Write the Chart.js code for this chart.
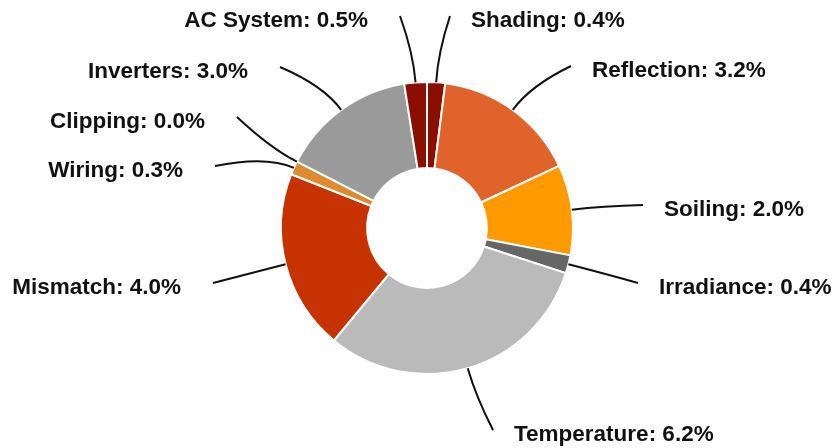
<!DOCTYPE html>
<html>
<head>
<meta charset="utf-8">
<title>PV Losses</title>
<script src="https://cdn.jsdelivr.net/npm/chart.js@4.4.1/dist/chart.umd.min.js"></script>
<style>
    html, body { margin: 0; padding: 0; background: #ffffff; }
    #wrap { width: 834px; height: 448px; position: relative; }
</style>
</head>
<body>
<div id="wrap"><canvas id="lossChart"></canvas></div>
<script>
/* ==========================================
   DATA
========================================== */

const lossNames = [
    "Shading", "Reflection", "Soiling", "Irradiance", "Temperature",
    "Mismatch", "Wiring", "Clipping", "Inverters", "AC System"
];

const lossValues = [0.4, 3.2, 2.0, 0.4, 6.2, 4.0, 0.3, 0.0, 3.0, 0.5];

const sliceColors = [
    "#8c0e00", "#e0632c", "#ff9a00", "#666666", "#bababa",
    "#c63300", "#e08a30", "#f0a040", "#9a9a9a", "#8c0e00"
];

// where each leader line ends, relative to the doughnut centre
const leaderEnds = [
    [23, -212], [144, -162], [216, -23], [211, 55], [66, 202],
    [-214, 55], [-212, -62], [-190, -111], [-147, -161], [-27, -212]
];


/* ==========================================
   OUTSIDE LABELS + LEADER LINES
========================================== */

const outsideLabels = {

    id: "outsideLabels",

    afterDatasetsDraw(chart) {

        const ctx = chart.ctx;
        const arcs = chart.getDatasetMeta(0).data;

        ctx.save();
        ctx.strokeStyle = "#111111";
        ctx.lineWidth = 2;
        ctx.fillStyle = "#111111";
        ctx.font = "bold 22.5px 'Liberation Sans', Arial, sans-serif";
        ctx.textBaseline = "middle";

        arcs.forEach((arc, i) => {

            const mid = (arc.startAngle + arc.endAngle) / 2;
            const r = arc.outerRadius;
            const sx = arc.x + Math.cos(mid) * r;
            const sy = arc.y + Math.sin(mid) * r;

            const ex = arc.x + leaderEnds[i][0];
            const ey = arc.y + leaderEnds[i][1];

            const dist = Math.hypot(ex - sx, ey - sy);
            const k = Math.min(dist * 0.45, 30);
            const cx = sx + Math.cos(mid) * k;
            const cy = sy + Math.sin(mid) * k;

            ctx.beginPath();
            ctx.moveTo(sx, sy);
            ctx.quadraticCurveTo(cx, cy, ex, ey);
            ctx.stroke();

            const text = lossNames[i] + ": " + lossValues[i].toFixed(1) + "%";

            if (leaderEnds[i][0] >= 0) {
                ctx.textAlign = "left";
                ctx.fillText(text, ex + 21, ey + 5);
            }
            else {
                ctx.textAlign = "right";
                ctx.fillText(text, ex - 32, ey + 5);
            }

        });

        ctx.restore();

    }

};


/* ==========================================
   DOUGHNUT
========================================== */

new Chart(document.getElementById("lossChart"), {

    type: "doughnut",

    data: {

        labels: lossNames,

        datasets: [{

            data: lossValues,

            backgroundColor: sliceColors,

            borderColor: "#ffffff",

            borderWidth: 2

        }]

    },

    options: {

        responsive: true,

        maintainAspectRatio: false,

        animation: false,

        cutout: "41%",

        layout: {

            padding: { top: 81, bottom: 73, left: 20, right: 0 }

        },

        plugins: {

            legend: { display: false },

            tooltip: { enabled: false }

        }

    },

    plugins: [outsideLabels]

});
</script>
</body>
</html>
